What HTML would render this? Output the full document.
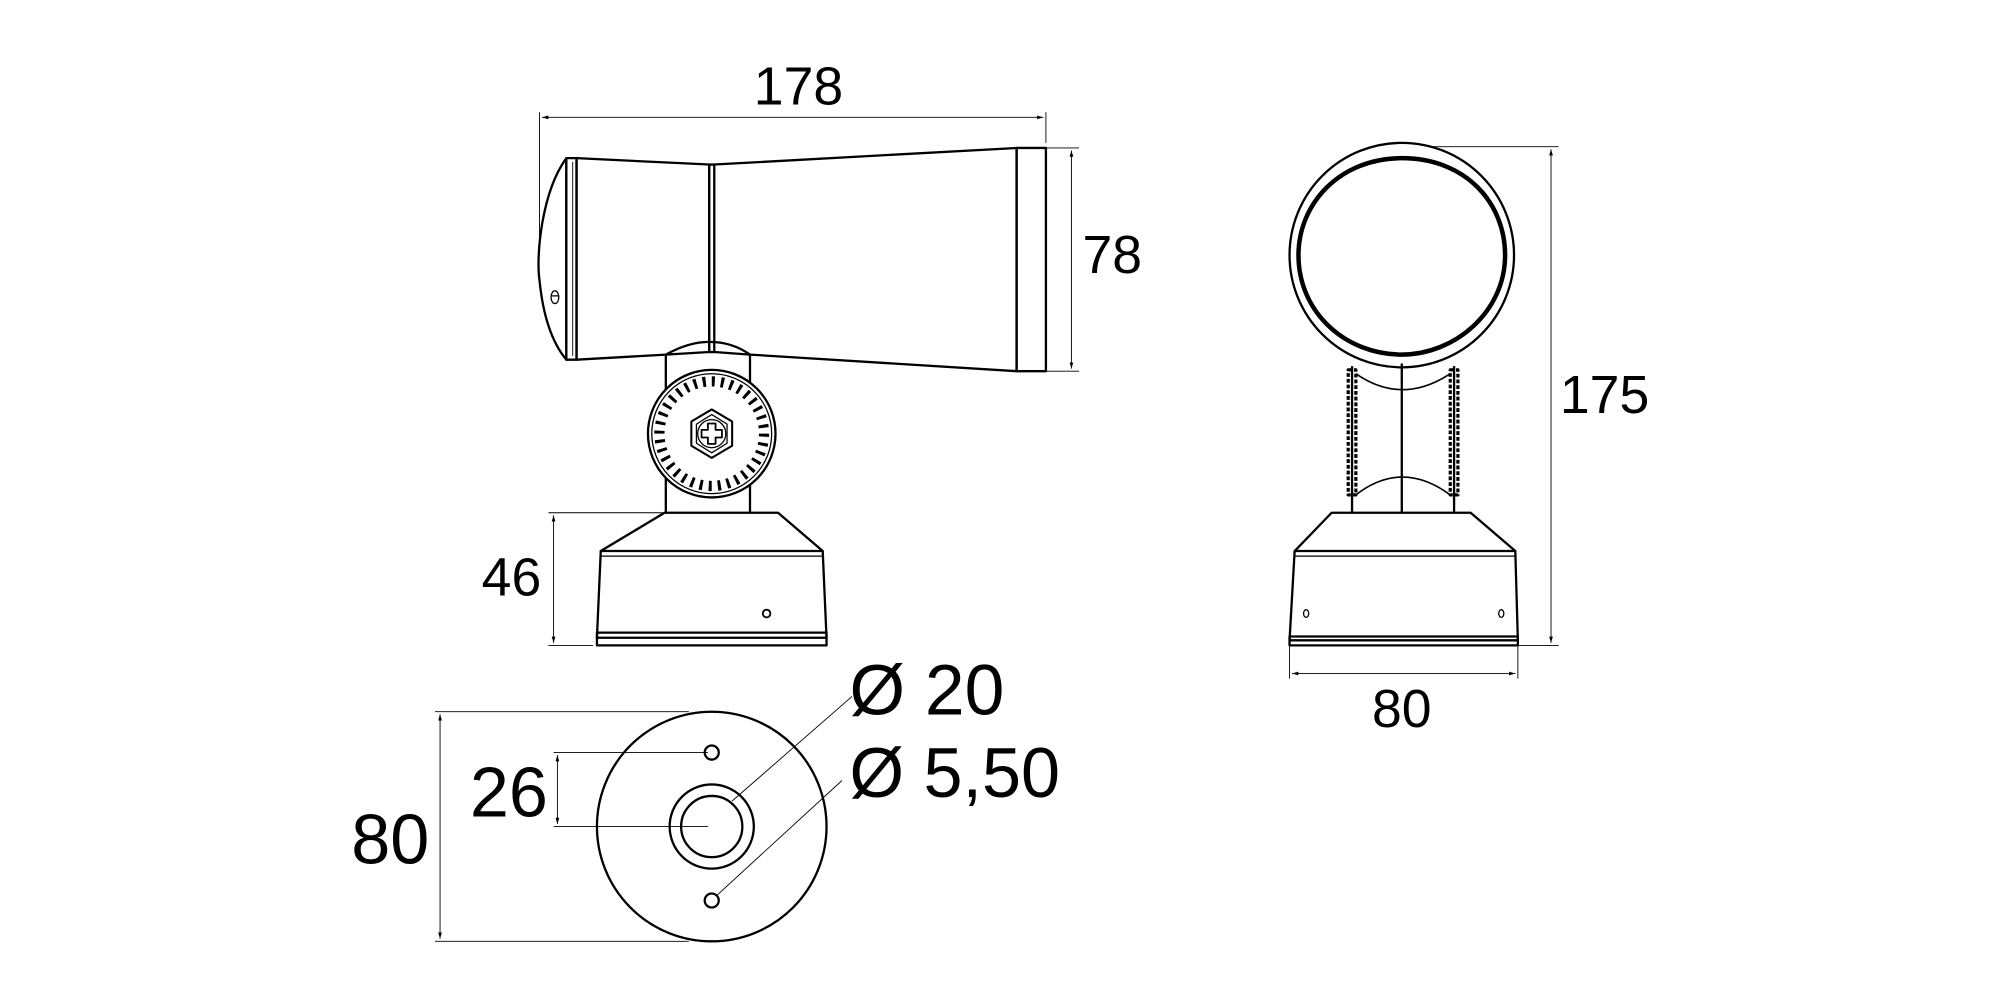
<!DOCTYPE html>
<html><head><meta charset="utf-8"><style>html,body{margin:0;padding:0;background:#fff}svg{display:block}</style></head>
<body>
<svg width="2000" height="1000" viewBox="0 0 1568 784" xmlns="http://www.w3.org/2000/svg" font-family="Liberation Sans, sans-serif">
<defs>
<marker id="a" viewBox="0 0 10 10" refX="10" refY="5" markerWidth="7" markerHeight="7" orient="auto-start-reverse"><path d="M0,2 L10,5 L0,8 z" fill="#000"/></marker>
</defs>
<g stroke="#000" fill="none" stroke-width="0.7">
<line x1="423" y1="88" x2="423" y2="200"/><line x1="820" y1="88" x2="820" y2="112"/>
<line x1="425" y1="92" x2="818" y2="92" marker-start="url(#a)" marker-end="url(#a)"/>
<line x1="820" y1="116" x2="846" y2="116"/><line x1="820" y1="291" x2="846" y2="291"/>
<line x1="840" y1="118" x2="840" y2="289" marker-start="url(#a)" marker-end="url(#a)"/>
<line x1="430" y1="402" x2="520" y2="402"/><line x1="430" y1="506" x2="465" y2="506"/>
<line x1="434" y1="404" x2="434" y2="504" marker-start="url(#a)" marker-end="url(#a)"/>
<line x1="1120" y1="115" x2="1222" y2="115"/><line x1="1190" y1="506" x2="1222" y2="506"/>
<line x1="1216" y1="117" x2="1216" y2="504" marker-start="url(#a)" marker-end="url(#a)"/>
<line x1="1011" y1="506" x2="1011" y2="532"/><line x1="1190" y1="506" x2="1190" y2="532"/>
<line x1="1013" y1="528" x2="1188" y2="528" marker-start="url(#a)" marker-end="url(#a)"/>
<line x1="341" y1="558" x2="540" y2="558"/><line x1="341" y1="738" x2="540" y2="738"/>
<line x1="345" y1="560" x2="345" y2="736" marker-start="url(#a)" marker-end="url(#a)"/>
<line x1="434" y1="590" x2="555" y2="590"/><line x1="434" y1="648" x2="555" y2="648"/>
<line x1="437" y1="592" x2="437" y2="646" marker-start="url(#a)" marker-end="url(#a)"/>
<line x1="574" y1="628" x2="668" y2="546"/><line x1="562" y1="702" x2="660" y2="612"/>
</g>
<g stroke="#000" fill="none" stroke-width="1.8" stroke-linejoin="round">
<path d="M444,124 C425,150 420,200 423,220 C426,250 434,270 444,282 Z"/>
<rect x="444" y="124" width="8" height="158"/>
<line x1="449" y1="127" x2="449" y2="279" stroke-width="0.7"/>
<path d="M452,124 L556,129 L556,276 L522,278 L452,282 Z"/>
<rect x="556" y="129" width="4" height="147"/>
<path d="M560,129 L797,116 L797,291 L588,278 L560,276"/>
<rect x="797" y="116" width="23" height="175"/>
<path d="M435,228 a3,5 0 1,0 0.1,0 M432,232 L438,232" stroke-width="1"/>
<path d="M522,278 Q540,268 556,268 Q574,268 588,278 L588,402 M522,278 L522,402"/>
<circle cx="558" cy="340" r="50" fill="#fff"/>
<circle cx="558" cy="340" r="47" stroke-width="1"/>
<circle cx="558" cy="340" r="41" stroke-width="8" stroke-dasharray="2.4 4.75"/>
<polygon points="558,321 574,330.5 574,349.5 558,359 542,349.5 542,330.5" stroke-width="1.6"/>
<polygon points="558,325 570,332.5 570,347.5 558,355 546,347.5 546,332.5" stroke-width="1"/>
<circle cx="558" cy="340" r="11" stroke-width="1"/>
<path d="M555,332 h6 v5 h5 v6 h-5 v5 h-6 v-5 h-5 v-6 h5 z" stroke-width="1.4"/>
<path d="M521,402 L610,402 L645,432 L471,432 Z"/>
<path d="M471,432 L468,500 L648,500 L645,432"/>
<line x1="471" y1="436" x2="645" y2="436" stroke-width="1"/>
<rect x="468" y="496" width="180" height="10"/>
<circle cx="601" cy="481" r="3" stroke-width="1.4"/>
<circle cx="1099" cy="200" r="88"/>
<path d="M1099,124 C1150,124 1180,160 1180,200 C1180,245 1140,278 1099,278 C1055,278 1018,245 1018,200 C1018,160 1050,124 1099,124 Z" stroke-width="3.5"/>
<path d="M1060,287 L1060,402 M1140,287 L1140,402 M1099,285 L1099,402"/>
<path d="M1063,293 Q1099,318 1137,293 M1063,388 Q1099,360 1137,388" stroke-width="1.3"/>
<rect x="1057" y="290" width="6" height="98" stroke-width="2.5" stroke-dasharray="3 1.5"/>
<rect x="1137" y="290" width="6" height="98" stroke-width="2.5" stroke-dasharray="3 1.5"/>
<path d="M1044,402 L1153,402 L1188,432 L1015,432 Z"/>
<path d="M1015,432 L1011,502 L1190,502 L1188,432"/>
<line x1="1015" y1="436" x2="1188" y2="436" stroke-width="1"/>
<rect x="1011" y="499" width="179" height="7"/>
<ellipse cx="1024" cy="481" rx="2" ry="3" stroke-width="1"/><ellipse cx="1177" cy="481" rx="2" ry="3" stroke-width="1"/>
<circle cx="558" cy="648" r="90"/>
<circle cx="558" cy="648" r="33"/>
<circle cx="558" cy="648" r="24"/>
<circle cx="558" cy="590" r="5.5"/>
<circle cx="558" cy="706" r="5.5"/>
</g>
<g font-size="42" fill="#000">
<text x="626" y="82" text-anchor="middle">178</text>
<text x="872" y="214" text-anchor="middle">78</text>
<text x="401" y="467" text-anchor="middle">46</text>
<text x="1258" y="324" text-anchor="middle">175</text>
<text x="1099" y="570" text-anchor="middle">80</text>
<text x="306" y="677" text-anchor="middle" font-size="55">80</text>
<text x="399" y="640" text-anchor="middle" font-size="55">26</text>
<text x="666" y="560" font-size="56">Ø 20</text>
<text x="666" y="625" font-size="55">Ø 5,50</text>
</g>
</svg>
</body></html>
